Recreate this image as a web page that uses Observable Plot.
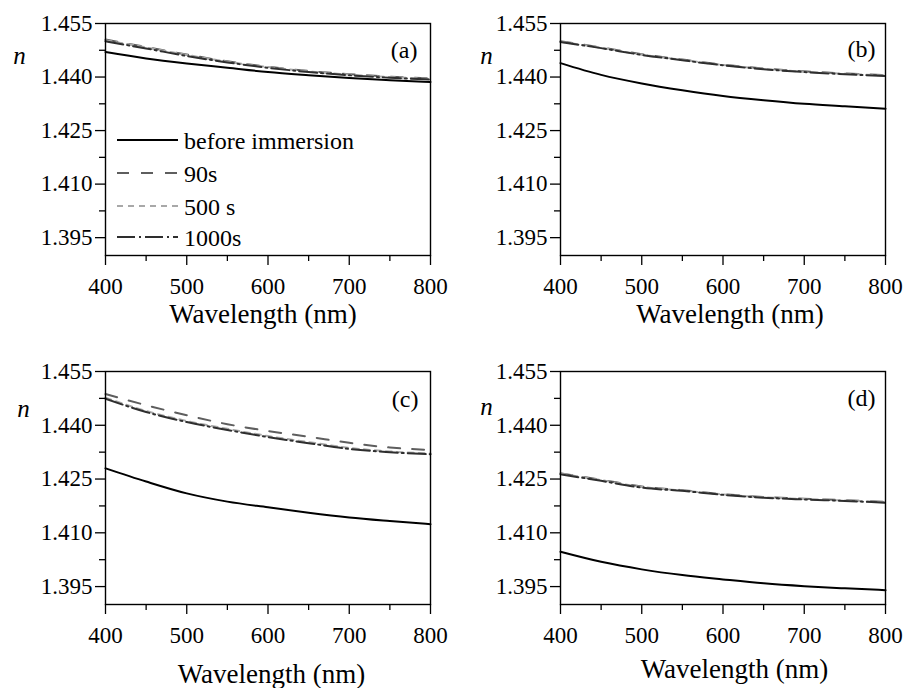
<!DOCTYPE html>
<html>
<head>
<meta charset="utf-8">
<script src="https://cdn.jsdelivr.net/npm/d3@7"></script>
<script src="https://cdn.jsdelivr.net/npm/@observablehq/plot@0.6"></script>
<style>
  body { margin: 0; background: #fff; }
  #root { position: relative; width: 904px; height: 688px; font-family: "Liberation Serif", "DejaVu Serif", serif; }
  .panel { position: absolute; }
  #legend { position: absolute; left: 0; top: 0; pointer-events: none; }
</style>
</head>
<body>
<div id="root"></div>
<script>
// ---------- data ----------
const wavelength = [400, 450, 500, 550, 600, 650, 700, 750, 800];
const seriesNames = ["before immersion", "90s", "500 s", "1000s"];
const panelLabels = ["(a)", "(b)", "(c)", "(d)"];
const xTicks = [400, 500, 600, 700, 800];
const xMinorTicks = [450, 550, 650, 750];
const yTicks = [1.395, 1.410, 1.425, 1.440, 1.455];
const yMinorTicks = [1.4025, 1.4175, 1.4325, 1.4475];

const a_before = [1.4470, 1.4452, 1.4438, 1.4426, 1.4414, 1.4405, 1.4397, 1.4391, 1.4386];
const a_90s    = [1.4505, 1.4484, 1.4463, 1.4444, 1.4429, 1.4417, 1.4408, 1.4401, 1.4396];
const a_500s   = [1.4503, 1.4483, 1.4462, 1.4443, 1.4428, 1.4416, 1.4407, 1.4400, 1.4395];
const a_1000s  = [1.4500, 1.4480, 1.4459, 1.4441, 1.4426, 1.4414, 1.4405, 1.4398, 1.4393];

const b_before = [1.4439, 1.4406, 1.4382, 1.4363, 1.4347, 1.4335, 1.4325, 1.4318, 1.4311];
const b_90s    = [1.4500, 1.4483, 1.4464, 1.4449, 1.4435, 1.4424, 1.4416, 1.4410, 1.4405];
const b_500s   = [1.4499, 1.4482, 1.4463, 1.4448, 1.4434, 1.4423, 1.4415, 1.4409, 1.4404];
const b_1000s  = [1.4498, 1.4481, 1.4462, 1.4447, 1.4433, 1.4422, 1.4414, 1.4408, 1.4403];

const c_before = [1.4280, 1.4243, 1.4210, 1.4187, 1.4171, 1.4156, 1.4143, 1.4133, 1.4124];
const c_90s    = [1.4487, 1.4456, 1.4428, 1.4403, 1.4384, 1.4368, 1.4351, 1.4338, 1.4331];
const c_500s   = [1.4477, 1.4440, 1.4412, 1.4390, 1.4370, 1.4353, 1.4337, 1.4327, 1.4321];
const c_1000s  = [1.4474, 1.4437, 1.4409, 1.4387, 1.4367, 1.4350, 1.4334, 1.4325, 1.4319];

const d_before = [1.4047, 1.4019, 1.3998, 1.3982, 1.3970, 1.3959, 1.3951, 1.3945, 1.3940];
const d_90s    = [1.4266, 1.4248, 1.4229, 1.4219, 1.4208, 1.4200, 1.4195, 1.4191, 1.4186];
const d_500s   = [1.4265, 1.4247, 1.4228, 1.4218, 1.4207, 1.4199, 1.4194, 1.4190, 1.4185];
const d_1000s  = [1.4263, 1.4245, 1.4226, 1.4217, 1.4206, 1.4198, 1.4193, 1.4189, 1.4184];

// ---------- styles ----------
const lineColors = ["#000000", "#5e5e5e", "#a8a8a8", "#2e2e2e"];
const lineDashes = [null, "12,12", "6,5", "18,4,2,4"];
const lineWidths = [2, 2, 2, 2];
const FONT = "Liberation Serif, DejaVu Serif, serif";

const panels = [
  { values: [a_before, a_90s, a_500s, a_1000s], left: 0,   top: 0,   mL: 105, mR: 22, mT: 23, mB: 89,
    nDx: -86, nDy: 32, labDx: -13, labDy: 26.5, xlDx: -5,  xlDy: 59 },
  { values: [b_before, b_90s, b_500s, b_1000s], left: 452, top: 0,   mL: 108, mR: 19, mT: 23, mB: 89,
    nDx: -74, nDy: 32, labDx: -10, labDy: 25.5, xlDx: 7,   xlDy: 59 },
  { values: [c_before, c_90s, c_500s, c_1000s], left: 0,   top: 344, mL: 105, mR: 22, mT: 27, mB: 84,
    nDx: -82, nDy: 37, labDx: -12, labDy: 28,   xlDx: 3.5, xlDy: 70 },
  { values: [d_before, d_90s, d_500s, d_1000s], left: 452, top: 344, mL: 108, mR: 19, mT: 27, mB: 84,
    nDx: -74, nDy: 35, labDx: -10, labDy: 26.5, xlDx: 11.5, xlDy: 64.5 }
];

const root = document.getElementById("root");

panels.forEach((p, pi) => {
  const lines = seriesNames.map((s, k) => {
    const rows = wavelength.map((w, i) => ({ wavelength: w, n: p.values[k][i] }));
    return Plot.line(rows, {
      x: "wavelength", y: "n",
      stroke: lineColors[k], strokeWidth: lineWidths[k],
      strokeDasharray: lineDashes[k] || undefined,
      curve: "monotone-x"
    });
  });

  const chart = Plot.plot({
    width: 452, height: 344,
    marginLeft: p.mL, marginRight: p.mR, marginTop: p.mT, marginBottom: p.mB,
    style: { fontFamily: FONT, fontSize: "23px", color: "#000", background: "transparent", overflow: "visible" },
    x: { domain: [400, 800], axis: null },
    y: { domain: [1.390, 1.455], axis: null },
    marks: [
      ...lines,
      Plot.axisX({ ticks: xMinorTicks, tickSize: 6, tickFormat: () => "", label: null, strokeWidth: 1.3 }),
      Plot.axisX({ ticks: xTicks, tickSize: 10, tickPadding: 12, tickFormat: d => String(d), label: null, strokeWidth: 1.3, fontSize: 23, fontFamily: FONT }),
      Plot.axisY({ ticks: yMinorTicks, tickSize: 6, tickFormat: () => "", label: null, strokeWidth: 1.3 }),
      Plot.axisY({ ticks: yTicks, tickSize: 10, tickPadding: 3, tickFormat: d3.format(".3f"), label: null, strokeWidth: 1.3, fontSize: 23, fontFamily: FONT }),
      Plot.frame({ stroke: "#000", strokeWidth: 1.4 }),
      Plot.text(["n"], { frameAnchor: "top-left", dx: p.nDx, dy: p.nDy, fontStyle: "italic", fontSize: 25, fontFamily: FONT, lineAnchor: "middle", textAnchor: "middle", fill: "#000" }),
      Plot.text([panelLabels[pi]], { frameAnchor: "top-right", dx: p.labDx, dy: p.labDy, fontSize: 24, fontFamily: FONT, lineAnchor: "middle", textAnchor: "end", fill: "#000" }),
      Plot.text(["Wavelength (nm)"], { frameAnchor: "bottom", dx: p.xlDx, dy: p.xlDy, fontSize: 27, fontFamily: FONT, lineAnchor: "middle", textAnchor: "middle", fill: "#000" })
    ]
  });
  const div = document.createElement("div");
  div.className = "panel";
  div.style.left = p.left + "px";
  div.style.top = p.top + "px";
  div.appendChild(chart);
  root.appendChild(div);
});

// ---------- legend (inside panel a) ----------
const legendRowsY = [140, 173, 206, 237];
const legend = d3.select(root).append("svg")
  .attr("id", "legend").attr("width", 904).attr("height", 688);
seriesNames.forEach((s, k) => {
  const g = legend.append("g");
  g.append("line")
    .attr("x1", 117).attr("x2", 178)
    .attr("y1", legendRowsY[k]).attr("y2", legendRowsY[k])
    .attr("stroke", lineColors[k]).attr("stroke-width", lineWidths[k])
    .attr("stroke-dasharray", lineDashes[k]);
  g.append("text")
    .attr("x", 184).attr("y", legendRowsY[k] + 8.5)
    .attr("font-family", FONT).attr("font-size", 24).attr("fill", "#000")
    .text(s);
});
</script>
</body>
</html>
